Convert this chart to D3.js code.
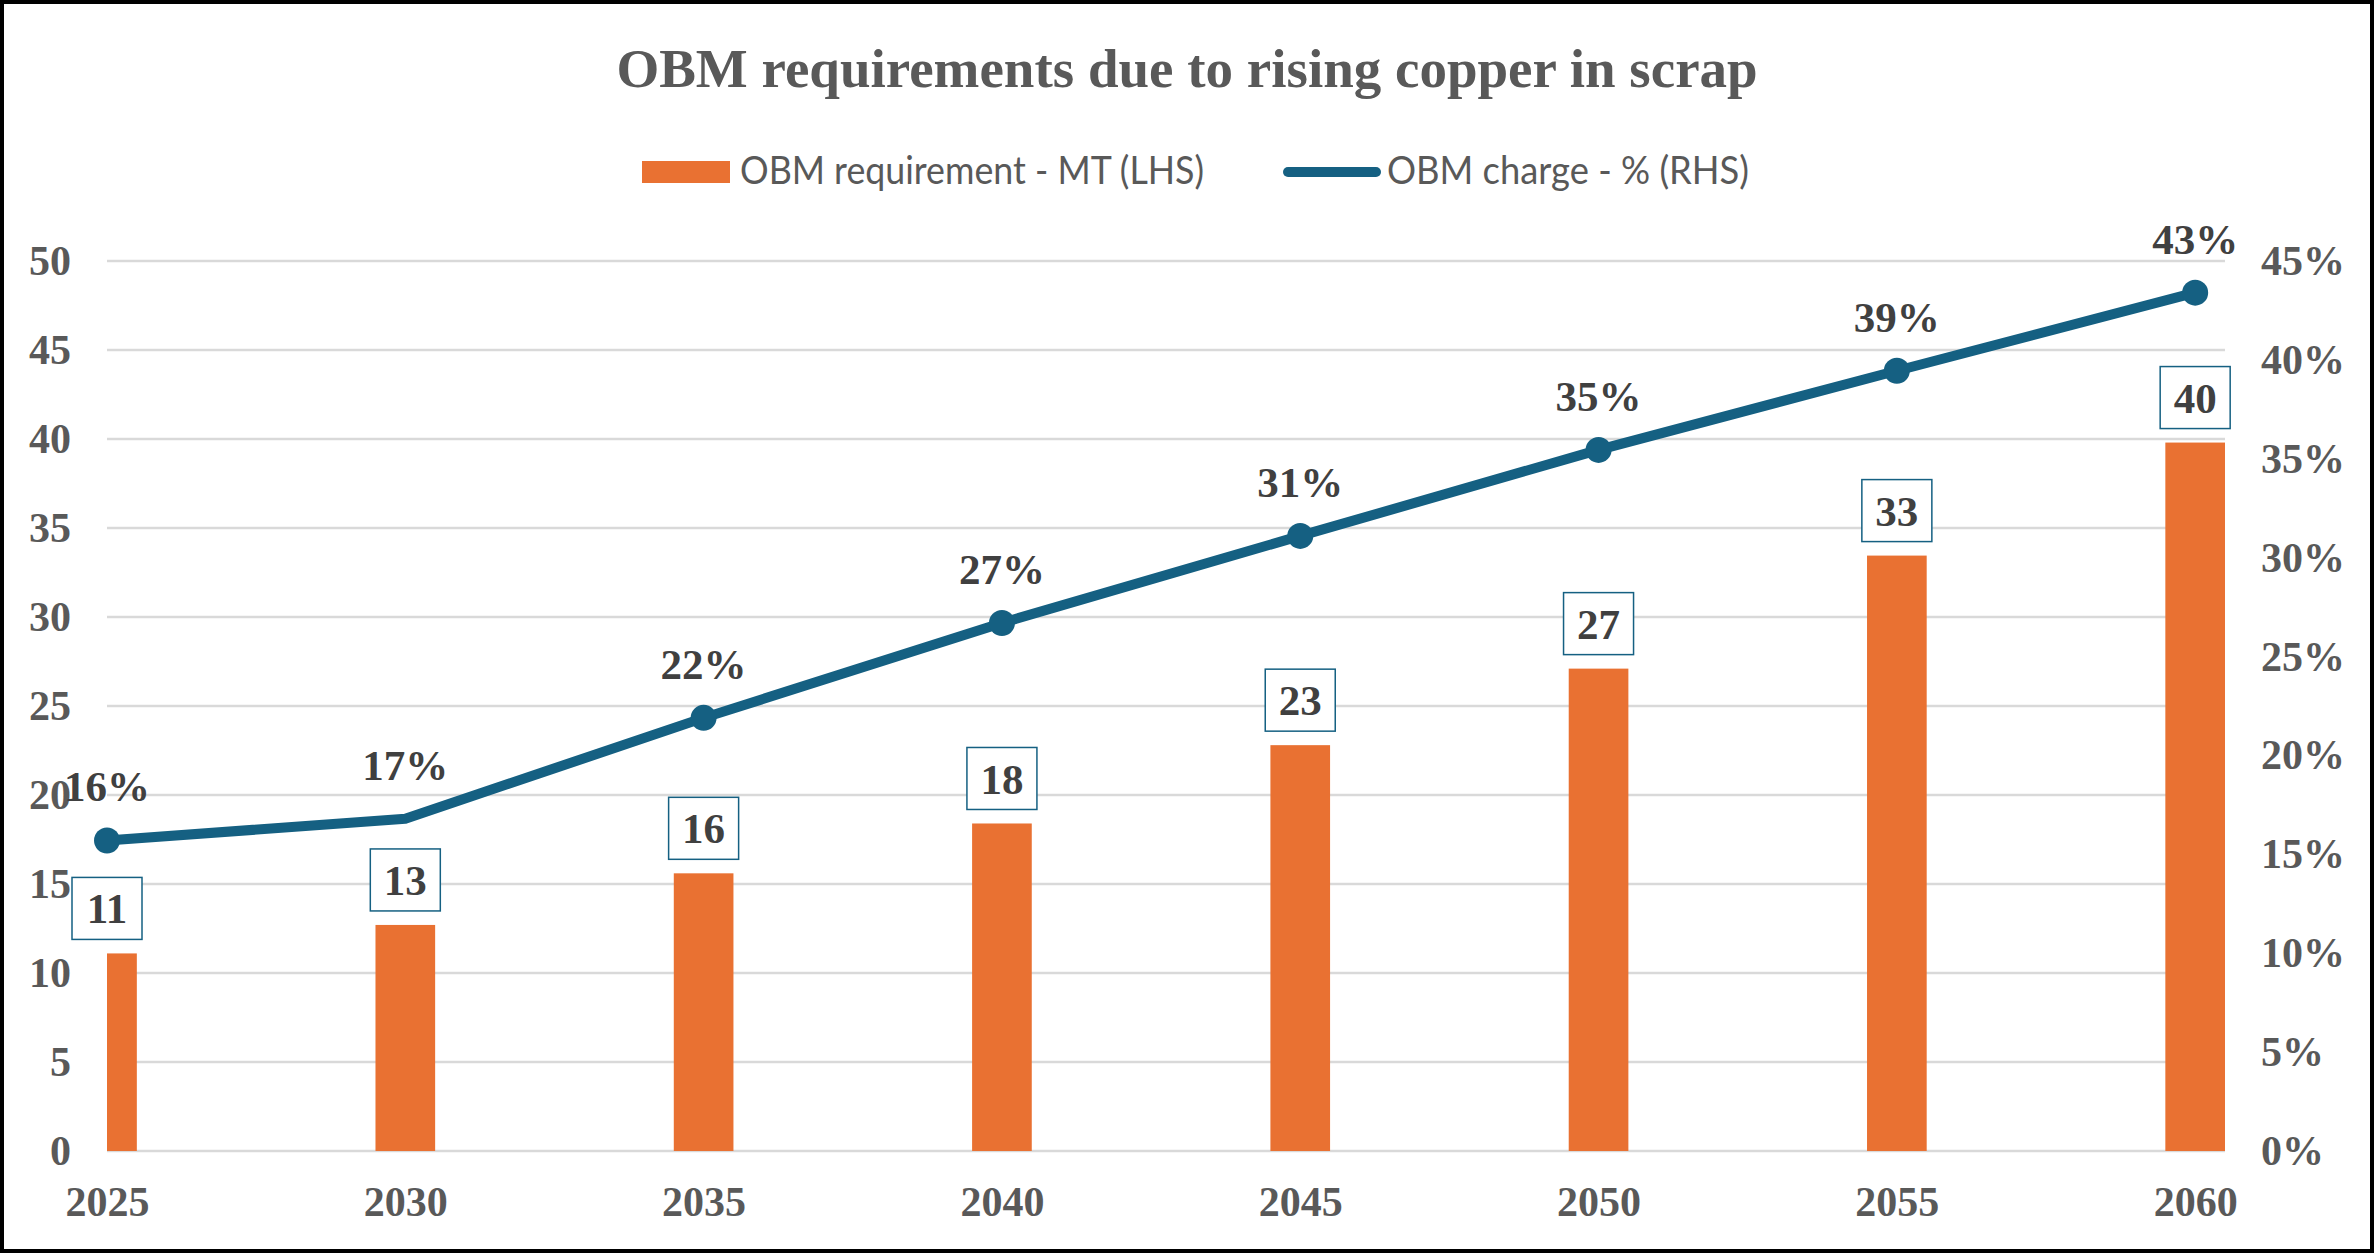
<!DOCTYPE html>
<html>
<head>
<meta charset="utf-8">
<script src="https://cdn.jsdelivr.net/npm/d3@7"></script>
<style>
  body { margin: 0; background: #fff; }
  svg { display: block; }
</style>
</head>
<body>
<svg id="chart" width="2374" height="1253"></svg>
<script>
const years = [2025, 2030, 2035, 2040, 2045, 2050, 2055, 2060];
const obmRequirement = [11.1, 12.7, 15.6, 18.4, 22.8, 27.1, 33.45, 39.8];   // MT, LHS
const obmCharge = [15.7, 16.8, 21.9, 26.7, 31.1, 35.45, 39.45, 43.4];       // %, RHS
const markerYears = [2025, 2035, 2040, 2045, 2050, 2055, 2060];
const leftTicks = [0, 5, 10, 15, 20, 25, 30, 35, 40, 45, 50];
const rightTicks = [0, 5, 10, 15, 20, 25, 30, 35, 40, 45];

const title = "OBM requirements due to rising copper in scrap";
const barName = "OBM requirement - MT (LHS)";
const lineName = "OBM charge - % (RHS)";

const orange = "#E97132";
const teal = "#156082";
const serif = "'Liberation Serif', 'Times New Roman', serif";
const sans = "Lato, 'Noto Sans', sans-serif";

const svg = d3.select("#chart");
const W = 2374, H = 1253;
const plot = { left: 107, right: 2225, top: 261, bottom: 1151 };

// border
svg.append("rect")
  .attr("x", 2).attr("y", 2)
  .attr("width", W - 4).attr("height", H - 4)
  .attr("fill", "#fff").attr("stroke", "#000").attr("stroke-width", 4);

const x = d3.scaleLinear().domain([2025, 2060.5]).range([plot.left, plot.right]);
const yL = d3.scaleLinear().domain([0, 50]).range([plot.bottom, plot.top]);
const yR = d3.scaleLinear().domain([0, 45]).range([plot.bottom, plot.top]);
const barW = x(2026) - x(2025);

// title
svg.append("text")
  .attr("x", 1187).attr("y", 87)
  .attr("text-anchor", "middle")
  .attr("font-family", serif).attr("font-weight", "bold")
  .attr("font-size", 55).attr("fill", "#595959")
  .text(title);

// legend
const legend = svg.append("g");
legend.append("rect")
  .attr("x", 642).attr("y", 161).attr("width", 88).attr("height", 22)
  .attr("fill", orange);
legend.append("text")
  .attr("x", 740).attr("y", 184)
  .attr("font-family", sans).attr("font-size", 38).attr("fill", "#595959")
  .attr("textLength", 464).attr("lengthAdjust", "spacingAndGlyphs")
  .text(barName);
legend.append("line")
  .attr("x1", 1288).attr("x2", 1376).attr("y1", 172).attr("y2", 172)
  .attr("stroke", teal).attr("stroke-width", 10).attr("stroke-linecap", "round");
legend.append("text")
  .attr("x", 1387).attr("y", 184)
  .attr("font-family", sans).attr("font-size", 38).attr("fill", "#595959")
  .attr("textLength", 362).attr("lengthAdjust", "spacingAndGlyphs")
  .text(lineName);

// gridlines
svg.append("g")
  .selectAll("line")
  .data(leftTicks)
  .join("line")
  .attr("x1", plot.left).attr("x2", plot.right)
  .attr("y1", d => yL(d)).attr("y2", d => yL(d))
  .attr("stroke", "#d9d9d9").attr("stroke-width", 2.5);

// left axis
const axisL = svg.append("g")
  .attr("transform", `translate(${plot.left - 36},0)`)
  .call(d3.axisLeft(yL).tickValues(leftTicks).tickSize(0).tickPadding(0));
axisL.select(".domain").remove();
axisL.selectAll("text")
  .attr("font-family", serif).attr("font-weight", "bold")
  .attr("font-size", 42).attr("fill", "#595959");

// right axis
const axisR = svg.append("g")
  .attr("transform", `translate(${plot.right + 36},0)`)
  .call(d3.axisRight(yR).tickValues(rightTicks).tickSize(0).tickPadding(0)
    .tickFormat(d => d + "%"));
axisR.select(".domain").remove();
axisR.selectAll("text")
  .attr("font-family", serif).attr("font-weight", "bold")
  .attr("font-size", 42).attr("fill", "#595959");

// bottom axis
const axisB = svg.append("g")
  .attr("transform", `translate(0,${plot.bottom + 36})`)
  .call(d3.axisBottom(x).tickValues(years).tickSize(0).tickPadding(0)
    .tickFormat(d3.format("d")));
axisB.select(".domain").remove();
axisB.selectAll("text")
  .attr("dy", "0.7em")
  .attr("font-family", serif).attr("font-weight", "bold")
  .attr("font-size", 42).attr("fill", "#595959");

// bars, clipped to plot area
svg.append("clipPath").attr("id", "plotClip")
  .append("rect")
  .attr("x", plot.left).attr("y", 0)
  .attr("width", plot.right - plot.left).attr("height", H);

const barData = years.map((yr, i) => ({ yr, v: obmRequirement[i] }));
svg.append("g").attr("clip-path", "url(#plotClip)")
  .selectAll("rect")
  .data(barData)
  .join("rect")
  .attr("x", d => x(d.yr) - barW / 2)
  .attr("y", d => yL(d.v))
  .attr("width", barW)
  .attr("height", d => yL(0) - yL(d.v))
  .attr("fill", orange);

// bar labels in boxes
const barLabels = svg.append("g")
  .selectAll("g")
  .data(barData)
  .join("g")
  .attr("transform", d => `translate(${x(d.yr)},${yL(d.v) - 14 - 31})`);
barLabels.append("rect")
  .attr("x", -35).attr("y", -31).attr("width", 70).attr("height", 62)
  .attr("fill", "#fff").attr("stroke", teal).attr("stroke-width", 1.5);
barLabels.append("text")
  .attr("text-anchor", "middle").attr("dy", "0.35em")
  .attr("font-family", serif).attr("font-weight", "bold")
  .attr("font-size", 43).attr("fill", "#404040")
  .text(d => Math.round(d.v));

// line
const lineData = years.map((yr, i) => ({ yr, v: obmCharge[i] }));
svg.append("path")
  .datum(lineData)
  .attr("d", d3.line().x(d => x(d.yr)).y(d => yR(d.v)))
  .attr("fill", "none").attr("stroke", teal)
  .attr("stroke-width", 10).attr("stroke-linejoin", "round");

svg.append("g")
  .selectAll("circle")
  .data(lineData.filter(d => markerYears.includes(d.yr)))
  .join("circle")
  .attr("cx", d => x(d.yr)).attr("cy", d => yR(d.v))
  .attr("r", 13).attr("fill", teal);

svg.append("g")
  .selectAll("text")
  .data(lineData)
  .join("text")
  .attr("x", d => x(d.yr)).attr("y", d => yR(d.v) - 39)
  .attr("text-anchor", "middle")
  .attr("font-family", serif).attr("font-weight", "bold")
  .attr("font-size", 43).attr("fill", "#404040")
  .text(d => Math.round(d.v) + "%");
</script>
</body>
</html>
